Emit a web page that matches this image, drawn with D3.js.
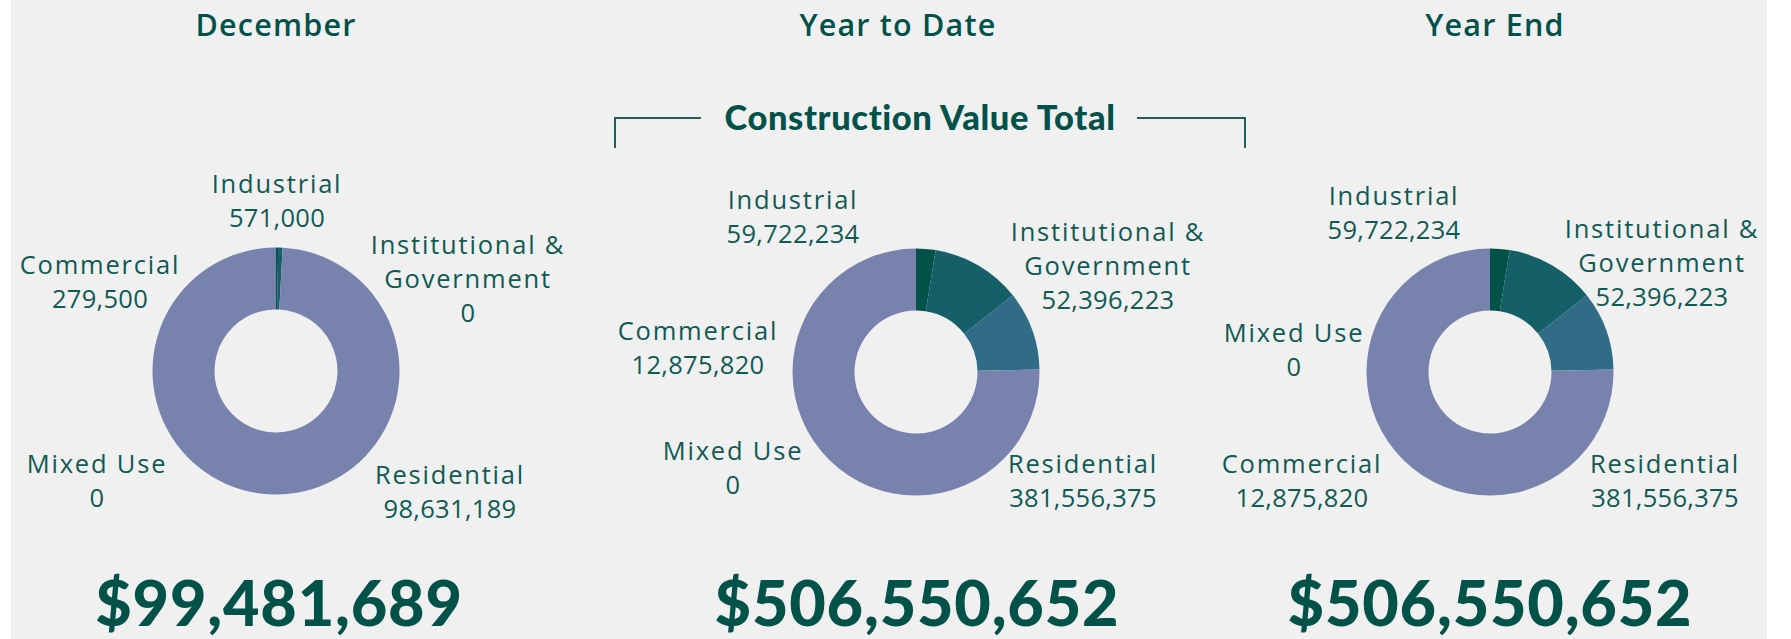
<!DOCTYPE html>
<html>
<head>
<meta charset="utf-8">
<script src="https://cdn.jsdelivr.net/npm/d3@7"></script>
<style>
  html, body { margin: 0; padding: 0; background: #fff; }
  #chart { width: 1791px; height: 639px; }
</style>
</head>
<body>
<div id="chart"></div>
<script>
// data
const categories = ["Commercial", "Industrial", "Institutional & Government", "Residential", "Mixed Use"];
const categoryLines = [["Commercial"], ["Industrial"], ["Institutional &", "Government"], ["Residential"], ["Mixed Use"]];
const panelTitles = ["December", "Year to Date", "Year End"];
const decemberValues = [279500, 571000, 0, 98631189, 0];
const yearToDateValues = [12875820, 59722234, 52396223, 381556375, 0];
const yearEndValues = [12875820, 59722234, 52396223, 381556375, 0];
const groupTitle = "Construction Value Total";

const colors = ["#02524a", "#145f68", "#306c85", "#7883ad", "#9aa3c4"];
const textColor = "#0f5a52";
const headColor = "#03524a";

// layout (label offsets from donut centre, first baseline)
const panels = [
  {
    values: decemberValues, cx: 276, cy: 371, titleX: 276, totalX: 279,
    labels: [[-176, -97], [1, -178], [192, -117], [174, 113], [-179, 102]],
  },
  {
    values: yearToDateValues, cx: 916, cy: 372, titleX: 898, totalX: 917,
    labels: [[-218, -32], [-123, -163], [192, -131], [167, 101], [-183, 88]],
  },
  {
    values: yearEndValues, cx: 1490, cy: 372, titleX: 1495, totalX: 1490,
    labels: [[-188, 101], [-96, -167], [172, -134], [175, 101], [-196, -30]],
  },
];

const LINE_H = 34;
const fmt = d3.format(",");

const svg = d3
  .select("#chart")
  .append("svg")
  .attr("width", 1791)
  .attr("height", 639);

svg
  .append("rect")
  .attr("x", 11)
  .attr("y", 0)
  .attr("width", 1756)
  .attr("height", 639)
  .attr("fill", "#f0f0f0");

const pie = d3.pie().sort(null).value((d) => d);
const arc = d3.arc().innerRadius(61.5).outerRadius(123.5);

// bracket over the year to date chart
const bracket = svg.append("g").attr("fill", "none").attr("stroke", "#1f5f58").attr("stroke-width", 2);
bracket.append("path").attr("d", "M615,148V118H701");
bracket.append("path").attr("d", "M1137,118H1245V148");

svg
  .append("text")
  .attr("x", 920)
  .attr("y", 130)
  .attr("text-anchor", "middle")
  .attr("font-family", "Lato")
  .attr("font-weight", 900)
  .attr("font-size", 34.5)
  .attr("letter-spacing", 0.6)
  .attr("fill", headColor)
  .text(groupTitle);

panels.forEach((p, pi) => {
  const g = svg.append("g").attr("class", "panel");

  g.append("text")
    .attr("x", p.titleX)
    .attr("y", 36)
    .attr("text-anchor", "middle")
    .attr("font-family", "Open Sans")
    .attr("font-weight", 600)
    .attr("font-size", 30.5)
    .attr("letter-spacing", 1.2)
    .attr("fill", headColor)
    .text(panelTitles[pi]);

  const donut = g.append("g").attr("transform", `translate(${p.cx},${p.cy})`);

  donut
    .selectAll("path")
    .data(pie(p.values))
    .join("path")
    .attr("d", arc)
    .attr("fill", (d, i) => colors[i]);

  const labels = g
    .append("g")
    .attr("font-family", "Open Sans")
    .attr("font-size", 25.5)
    .attr("fill", textColor)
    .attr("text-anchor", "middle")
    .selectAll("text")
    .data(categories)
    .join("text")
    .attr("x", (d, i) => p.cx + p.labels[i][0])
    .attr("y", (d, i) => p.cy + p.labels[i][1]);

  labels.each(function (d, i) {
    const names = categoryLines[i];
    const lines = names.concat([fmt(p.values[i])]);
    d3.select(this)
      .selectAll("tspan")
      .data(lines)
      .join("tspan")
      .attr("x", p.cx + p.labels[i][0])
      .attr("dy", (l, k) => (k === 0 ? 0 : LINE_H))
      .attr("letter-spacing", (l, k) => (k < names.length ? 1.8 : 0.3))
      .text((l) => l);
  });

  g.append("text")
    .attr("x", p.totalX)
    .attr("y", 626)
    .attr("text-anchor", "middle")
    .attr("font-family", "Lato")
    .attr("font-weight", 900)
    .attr("font-size", 63)
    .attr("letter-spacing", 0.8)
    .attr("fill", headColor)
    .text("$" + fmt(d3.sum(p.values)));
});
</script>
</body>
</html>
